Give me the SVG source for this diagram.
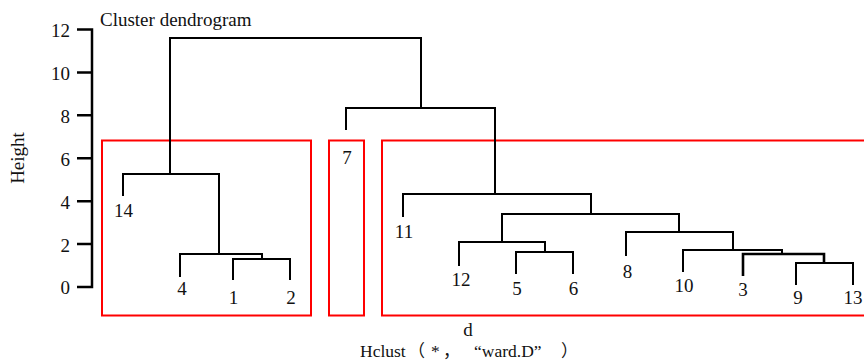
<svg xmlns="http://www.w3.org/2000/svg" width="864" height="361" viewBox="0 0 864 361">
<style>
text{font-family:"Liberation Serif","Noto Sans CJK SC",serif;fill:#111}
.t{font-size:19px}
.lbl{font-size:19px;text-anchor:middle}
.ax{font-size:19px;text-anchor:end}
.cjk{font-family:"Noto Sans CJK SC",sans-serif;font-size:17px}
.br{fill:none;stroke:#000;stroke-width:2}
.box{fill:none;stroke:#ff0000;stroke-width:2}
.axis{fill:none;stroke:#000;stroke-width:2.5}
</style>
<rect width="864" height="361" fill="#fff"/>
<g id="axis">
<path class="axis" d="M77,29.5H92V287H77M77,72.4H92M77,115.3H92M77,158.2H92M77,201.2H92M77,244.1H92"/>
<text class="ax" x="70" y="36.5">12</text>
<text class="ax" x="70" y="79.5">10</text>
<text class="ax" x="70" y="122.5">8</text>
<text class="ax" x="70" y="165.5">6</text>
<text class="ax" x="70" y="208.5">4</text>
<text class="ax" x="70" y="251.5">2</text>
<text class="ax" x="70" y="294">0</text>
<text class="t" transform="translate(24,158) rotate(-90)" text-anchor="middle">Height</text>
</g>
<text id="title" class="t" x="100" y="26">Cluster dendrogram</text>
<g id="clusters">
<rect class="box" x="102" y="140.5" width="209" height="175"/>
<rect class="box" x="329" y="140.5" width="35" height="175"/>
<rect class="box" x="382" y="140.5" width="490" height="175"/>
</g>
<g id="connectors">
<path class="br" d="M170,174V38H421V108"/>
<path class="br" d="M123,196V174H219V254"/>
<path class="br" d="M180,277V254H262V259"/>
<path class="br" d="M233,280V259H290V280"/>
<path class="br" d="M346,130V108H495V194"/>
<path class="br" d="M403,217V194H591V214"/>
<path class="br" d="M502,242V214H679V232"/>
<path class="br" d="M459,266V242H545V252"/>
<path class="br" d="M516,274V252H573V274"/>
<path class="br" d="M626,256V232H733V250"/>
<path class="br" d="M683,272V250H782V254"/>
<path class="br" style="stroke-width:2.6" d="M743,276V254H824V263"/>
<path class="br" d="M796,285V263H853V285"/>
</g>
<g id="n14"><text class="lbl" x="123.5" y="217">14</text></g>
<g id="n4"><text class="lbl" x="182" y="295">4</text></g>
<g id="n1"><text class="lbl" x="233.5" y="304">1</text></g>
<g id="n2"><text class="lbl" x="291" y="304">2</text></g>
<g id="n7"><text class="lbl" x="347" y="164">7</text></g>
<g id="n11"><text class="lbl" x="404" y="238">11</text></g>
<g id="n12"><text class="lbl" x="461" y="286">12</text></g>
<g id="n5"><text class="lbl" x="517" y="295">5</text></g>
<g id="n6"><text class="lbl" x="573.5" y="295">6</text></g>
<g id="n8"><text class="lbl" x="627.5" y="278">8</text></g>
<g id="n10"><text class="lbl" x="684" y="292">10</text></g>
<g id="n3"><text class="lbl" x="743" y="296">3</text></g>
<g id="n9"><text class="lbl" x="798" y="304">9</text></g>
<g id="n13"><text class="lbl" x="853" y="304">13</text></g>
<text id="xlab-d" class="lbl" x="468" y="336">d</text>
<text id="xlab" style="font-size:17.5px" y="357"><tspan x="360">Hclust</tspan><tspan x="408" class="cjk">（</tspan><tspan x="431">*</tspan><tspan x="443" class="cjk">，</tspan><tspan x="474">“ward.D”</tspan><tspan x="561" class="cjk">）</tspan></text>
</svg>
